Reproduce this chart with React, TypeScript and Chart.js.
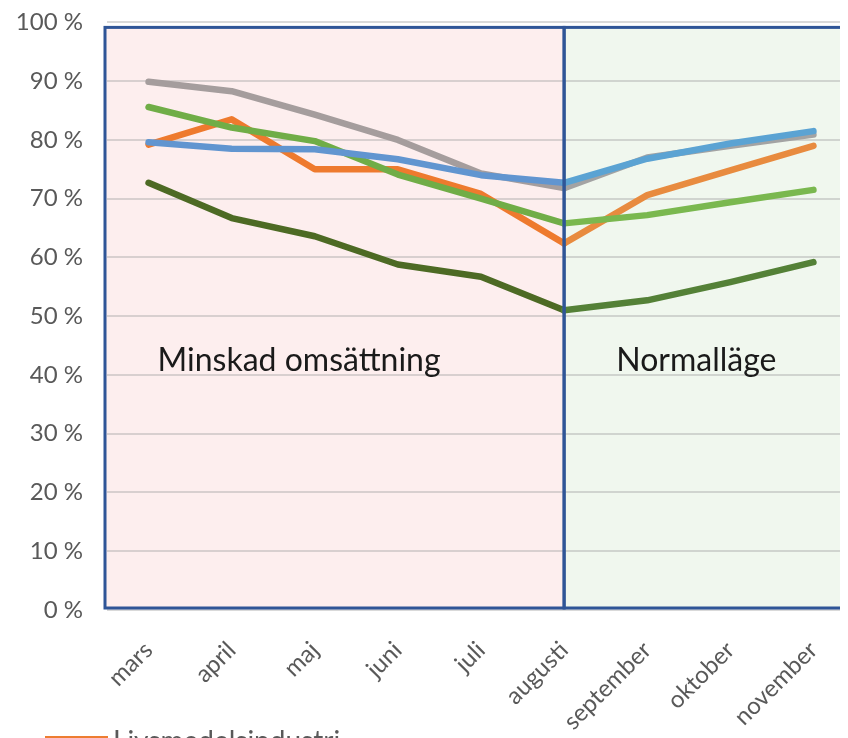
import { useEffect, useRef } from 'react';
import { Chart, registerables } from 'chart.js';

Chart.register(...registerables);

const categories = ['mars', 'april', 'maj', 'juni', 'juli', 'augusti', 'september', 'oktober', 'november'];
const yTicks = [0, 10, 20, 30, 40, 50, 60, 70, 80, 90, 100];

const livsmedel = [79.2, 83.5, 75.0, 75.0, 70.8, 62.4, 70.6, 74.8, 79.0];
const serieGra = [89.9, 88.3, 84.3, 80.0, 74.3, 71.8, 77.0, 79.0, 80.9];
const serieBla = [79.6, 78.5, 78.4, 76.7, 74.0, 72.7, 76.8, 79.4, 81.5];
const serieGron = [85.6, 82.1, 79.8, 74.1, 70.0, 65.8, 67.2, 69.4, 71.5];
const serieMorkgron = [72.7, 66.7, 63.6, 58.8, 56.7, 51.0, 52.7, 55.8, 59.2];

const leftLabel = 'Minskad omsättning';
const rightLabel = 'Normalläge';
const legendLabel = 'Livsmedelsindustri';
const splitIndex = 5;

const FONT = 'Lato, "Open Sans", sans-serif';

function mk(label: string, data: number[], c1: string, c2: string, order: number) {
  return {
    label,
    data,
    borderColor: c1,
    backgroundColor: c1,
    borderWidth: 6.5,
    pointRadius: 0,
    tension: 0,
    borderJoinStyle: 'round' as const,
    borderCapStyle: 'round' as const,
    order,
    segment: {
      borderColor: (ctx: any) => (ctx.p0DataIndex >= splitIndex ? c2 : c1),
    },
  };
}

const regionPlugin = {
  id: 'regions',
  beforeDraw(chart: any) {
    const { ctx, chartArea, scales } = chart;
    const x = scales.x;
    const y = scales.y;
    const top = y.getPixelForValue(100) + 5;
    const bottom = y.getPixelForValue(0) - 2;
    const left = chartArea.left - 2;
    const mid = x.getPixelForValue(splitIndex);
    const right = chartArea.right + 40;
    ctx.save();
    ctx.fillStyle = '#FDEEEE';
    ctx.fillRect(left, top, mid - left, bottom - top);
    ctx.fillStyle = '#F0F7EE';
    ctx.fillRect(mid, top, right - mid, bottom - top);
    ctx.restore();
  },
  afterDatasetsDraw(chart: any) {
    const { ctx, chartArea, scales } = chart;
    const x = scales.x;
    const y = scales.y;
    const top = y.getPixelForValue(100) + 5;
    const bottom = y.getPixelForValue(0) - 2;
    const left = chartArea.left - 2;
    const mid = x.getPixelForValue(splitIndex);
    const right = chartArea.right + 40;
    ctx.save();
    ctx.strokeStyle = '#2F5597';
    ctx.lineWidth = 3;
    ctx.strokeRect(left, top, mid - left, bottom - top);
    ctx.strokeRect(mid, top, right - mid, bottom - top);

    ctx.fillStyle = '#1a1a1a';
    ctx.font = `32px ${FONT}`;
    ctx.textAlign = 'left';
    ctx.textBaseline = 'alphabetic';
    const base = y.getPixelForValue(40) - 4;
    ctx.fillText(leftLabel, x.getPixelForValue(0) + 9, base);
    ctx.fillText(rightLabel, x.getPixelForValue(6) - 31, base);

    // legend (cut off at the bottom)
    ctx.strokeStyle = '#ED7D31';
    ctx.lineWidth = 4;
    ctx.beginPath();
    ctx.moveTo(37, 730);
    ctx.lineTo(100, 730);
    ctx.stroke();
    ctx.fillStyle = '#595959';
    ctx.font = `28px ${FONT}`;
    ctx.textBaseline = 'top';
    ctx.fillText(legendLabel, 105, 720);
    ctx.restore();
  },
};

export default function App() {
  const ref = useRef<HTMLCanvasElement>(null);
  useEffect(() => {
    const chart = new Chart(ref.current as HTMLCanvasElement, {
      type: 'line',
      data: {
        labels: categories,
        datasets: [
          mk(legendLabel, livsmedel, '#EE7A2E', '#E88B3F', 5),
          mk('Serie 2', serieGra, '#A59D9D', '#A3A3A3', 4),
          mk('Serie 3', serieBla, '#6195D0', '#5BA3D3', 2),
          mk('Serie 4', serieGron, '#70AD47', '#7AB84F', 3),
          mk('Serie 5', serieMorkgron, '#4D6A24', '#548137', 1),
        ] as any,
      },
      options: {
        responsive: false,
        animation: false,
        layout: { padding: { top: 14, right: 23, left: 0, bottom: 0 } },
        plugins: { legend: { display: false }, tooltip: { enabled: false } },
        scales: {
          x: {
            offset: true,
            grid: { display: false, drawTicks: true, tickLength: 26, tickColor: 'rgba(0,0,0,0)' },
            border: { display: false },
            ticks: {
              color: '#595959',
              font: { family: FONT, size: 24 },
              minRotation: 45,
              maxRotation: 45,
              padding: 0,
              autoSkip: false,
            },
            afterFit: (s: any) => {
              s.height = 158;
            },
          },
          y: {
            min: 0,
            max: 100,
            afterBuildTicks: (s: any) => {
              s.ticks = yTicks.map((v) => ({ value: v }));
            },
            grid: {
              color: 'rgba(160,160,160,0.4)',
              lineWidth: 2,
              drawTicks: true,
              tickLength: 24,
              tickColor: 'rgba(0,0,0,0)',
            },
            border: { display: false },
            ticks: {
              color: '#595959',
              font: { family: FONT, size: 24 },
              padding: 0,
              callback: (v: any) => `${v}\u00a0%`,
            },
            afterFit: (s: any) => {
              s.width = 99;
            },
          },
        },
      },
      plugins: [regionPlugin],
    });
    return () => chart.destroy();
  }, []);
  return (
    <div style={{ width: 840, height: 730, overflow: 'hidden' }}>
      <canvas ref={ref} width={870} height={760} style={{ display: 'block' }} />
    </div>
  );
}
